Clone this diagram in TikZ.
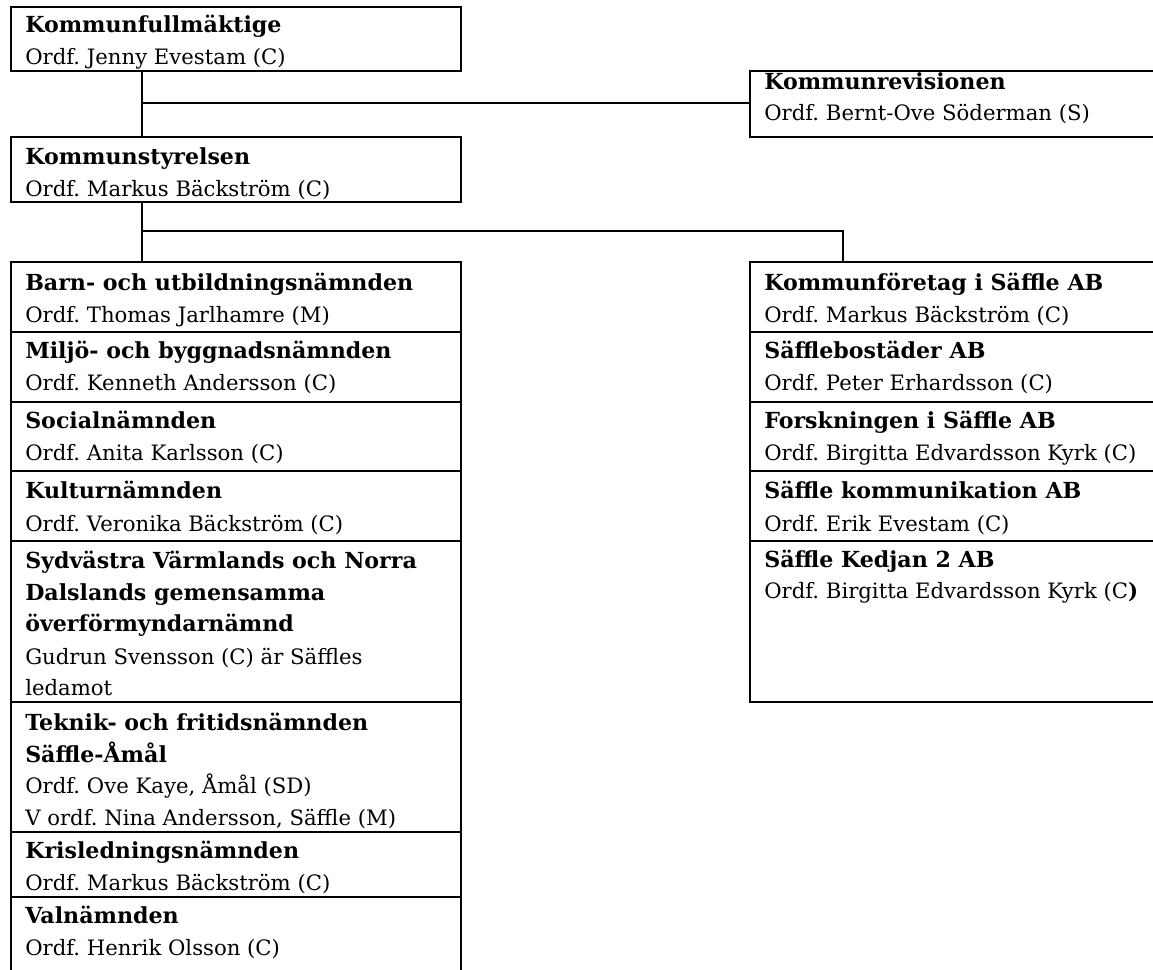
\documentclass[tikz,border=0pt]{standalone}
\usepackage{fontspec}
\setmainfont{DejaVu Serif}
\usetikzlibrary{fit}
\tikzset{
  box/.style={draw, line width=1.15pt, inner sep=0pt},
  conn/.style={draw, line width=1.15pt},
  tl/.style={anchor=base west, inner sep=0pt, font=\frenchspacing\fontsize{15.9}{19}\selectfont},
  th/.style={tl, font=\frenchspacing\fontsize{16.6}{19}\selectfont\bfseries},
}
\begin{document}
\begin{tikzpicture}[x=0.75pt, y=-0.75pt]
\useasboundingbox (0,0) rectangle (1153,970);
% top boxes
\node[box, fit={(11,7)(461,71)}] (KF) {};
\node[box, fit={(750,71)(1180,137)}] (KR) {};
\node[box, fit={(11,137)(461,202)}] (KS) {};
% left column
\node[box, fit={(11,262)(461,332)}] (L1) {};
\node[box, fit={(11,332)(461,402)}] (L2) {};
\node[box, fit={(11,402)(461,471)}] (L3) {};
\node[box, fit={(11,471)(461,541)}] (L4) {};
\node[box, fit={(11,541)(461,702)}] (L5) {};
\node[box, fit={(11,702)(461,832)}] (L6) {};
\node[box, fit={(11,832)(461,897)}] (L7) {};
\node[box, fit={(11,897)(461,1010)}] (L8) {};
% right column
\node[box, fit={(750,262)(1180,332)}] (R1) {};
\node[box, fit={(750,332)(1180,402)}] (R2) {};
\node[box, fit={(750,402)(1180,471)}] (R3) {};
\node[box, fit={(750,471)(1180,541)}] (R4) {};
\node[box, fit={(750,541)(1180,702)}] (R5) {};
% connector coordinates
\coordinate (c1) at (142,103);
\coordinate (c2) at (142,231);
\coordinate (c3) at (843,231);
\draw[conn] (KF.south -| c1) -- (KS.north -| c1);
\draw[conn] (c1) -- (KR.west |- c1);
\draw[conn] (KS.south -| c2) -- (L1.north -| c2);
\draw[conn] (c2) -- (c3) -- (R1.north -| c3);
% texts
\node[th] (t1) at (25,33) {Kommunfullmäktige};
\node[tl] (t2) at (25,65) {Ordf. Jenny Evestam (C)};
\node[th] (t3) at (764,90) {Kommunrevisionen};
\node[tl] (t4) at (764,121) {Ordf. Bernt-Ove Söderman (S)};
\node[th] (t5) at (25,165) {Kommunstyrelsen};
\node[tl] (t6) at (25,197) {Ordf. Markus Bäckström (C)};
\node[th] (l1a) at (25,290) {Barn- och utbildningsnämnden};
\node[tl] (l1b) at (25,322) {Ordf. Thomas Jarlhamre (M)};
\node[th] (l2a) at (25,358) {Miljö- och byggnadsnämnden};
\node[tl] (l2b) at (25,390) {Ordf. Kenneth Andersson (C)};
\node[th] (l3a) at (25,428) {Socialnämnden};
\node[tl] (l3b) at (25,460) {Ordf. Anita Karlsson (C)};
\node[th] (l4a) at (25,498) {Kulturnämnden};
\node[tl] (l4b) at (25,531) {Ordf. Veronika Bäckström (C)};
\node[th] (l5a) at (25,568) {Sydvästra Värmlands och Norra};
\node[th] (l5b) at (25,600) {Dalslands gemensamma};
\node[th] (l5c) at (25,631) {överförmyndarnämnd};
\node[tl] (l5d) at (25,664) {Gudrun Svensson (C) är Säffles};
\node[tl] (l5e) at (25,695) {ledamot};
\node[th] (l6a) at (25,730) {Teknik- och fritidsnämnden};
\node[th] (l6b) at (25,762) {Säffle-Åmål};
\node[tl] (l6c) at (25,793) {Ordf. Ove Kaye, Åmål (SD)};
\node[tl] (l6d) at (25,825) {V ordf. Nina Andersson, Säffle (M)};
\node[th] (l7a) at (25,858) {Krisledningsnämnden};
\node[tl] (l7b) at (25,890) {Ordf. Markus Bäckström (C)};
\node[th] (l8a) at (25,923) {Valnämnden};
\node[tl] (l8b) at (25,955) {Ordf. Henrik Olsson (C)};
\node[th] (r1a) at (764,290) {Kommunföretag i Säffle AB};
\node[tl] (r1b) at (764,322) {Ordf. Markus Bäckström (C)};
\node[th] (r2a) at (764,358) {Säfflebostäder AB};
\node[tl] (r2b) at (764,390) {Ordf. Peter Erhardsson (C)};
\node[th] (r3a) at (764,428) {Forskningen i Säffle AB};
\node[tl] (r3b) at (764,460) {Ordf. Birgitta Edvardsson Kyrk (C)};
\node[th] (r4a) at (764,498) {Säffle kommunikation AB};
\node[tl] (r4b) at (764,531) {Ordf. Erik Evestam (C)};
\node[th] (r5a) at (764,567) {Säffle Kedjan 2 AB};
\node[tl] (r5b) at (764,598) {Ordf. Birgitta Edvardsson Kyrk (C\textbf{)}};
\end{tikzpicture}
\end{document}
